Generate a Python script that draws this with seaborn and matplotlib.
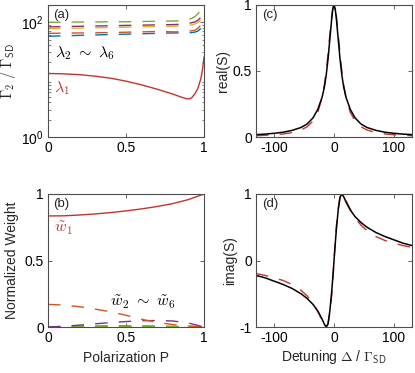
import numpy as np
import pandas as pd
import seaborn as sns
import matplotlib
matplotlib.use("Agg")
import matplotlib.pyplot as plt
from matplotlib.ticker import LogLocator, NullFormatter

# ---------------- data ----------------
# panel (a): decay rates vs polarization
P_a = [0.0, 0.1, 0.2, 0.3, 0.4, 0.5, 0.6, 0.7, 0.8, 0.85, 0.88, 0.9, 0.92, 0.94, 0.96, 0.98, 0.99, 1.0]
lam1 = [12.8, 12.6, 12.2, 11.5, 10.6, 9.4, 8.1, 6.8, 5.6, 5.0, 4.7, 4.6, 4.8, 5.6, 7.0, 10.5, 15.0, 25.0]
lam_green = [100, 100, 101, 101, 102, 102, 103, 104, 105, 106, 108, 110, 117, 124, 140, 165, 180, 190]
lam_purple = [83, 84, 85, 86, 87, 88, 89, 90, 91, 92, 93, 95, 98, 101, 108, 122, 132, 140]
lam_yellow = [77, 78, 79, 80, 81, 82, 83, 84, 85, 86, 87, 88, 90, 93, 99, 110, 118, 125]
lam_orange = [64, 64.5, 65, 65.5, 66, 67, 68, 69, 68, 68, 69, 70, 71, 72, 78, 90, 95, 100]
lam_blue = [57, 58, 59, 60, 61, 62, 63, 64, 65, 65, 65, 66, 66, 67, 70, 78, 83, 88]

# panel (b): normalized weights vs polarization
P_b = [0.0, 0.1, 0.2, 0.3, 0.4, 0.5, 0.6, 0.7, 0.8, 0.9, 1.0]
w1 = [0.835, 0.836, 0.842, 0.850, 0.860, 0.873, 0.888, 0.906, 0.928, 0.958, 1.0]
w_orange = [0.17, 0.165, 0.153, 0.135, 0.115, 0.088, 0.058, 0.035, 0.018, 0.008, 0.0]
w_purple = [0.0, 0.006, 0.014, 0.024, 0.033, 0.041, 0.047, 0.049, 0.045, 0.03, 0.0]
w_yellow = [0.0, 0.002, 0.003, 0.004, 0.004, 0.004, 0.004, 0.003, 0.002, 0.001, 0.0]
w_green = [0.0, 0.002, 0.003, 0.004, 0.005, 0.005, 0.005, 0.004, 0.003, 0.002, 0.0]
w_blue = [0.0, 0.003, 0.005, 0.006, 0.007, 0.007, 0.007, 0.006, 0.004, 0.002, 0.0]

# panels (c),(d): spectrum vs detuning
D = [-130, -115, -100, -85, -70, -55, -45, -35, -27, -20, -16, -13, -10, -7, -4, -2,
     0, 2, 4, 7, 10, 13, 16, 20, 27, 35, 45, 55, 70, 85, 100, 115, 130]
re_black = [0.018, 0.022, 0.028, 0.036, 0.050, 0.072, 0.098, 0.145, 0.21, 0.30, 0.38, 0.47, 0.59, 0.74, 0.89, 0.97,
            1.0, 0.97, 0.89, 0.74, 0.59, 0.47, 0.38, 0.30, 0.21, 0.145, 0.098, 0.072, 0.050, 0.036, 0.028, 0.022, 0.018]
re_red = [0.010, 0.013, 0.017, 0.023, 0.033, 0.053, 0.077, 0.121, 0.188, 0.297, 0.398, 0.50, 0.628, 0.775, 0.913, 0.977,
          1.0, 0.977, 0.913, 0.775, 0.628, 0.50, 0.398, 0.297, 0.188, 0.121, 0.077, 0.053, 0.033, 0.023, 0.017, 0.013, 0.010]
im_black = [-0.225, -0.26, -0.31, -0.36, -0.42, -0.50, -0.57, -0.66, -0.76, -0.88, -0.96, -1.0, -0.95, -0.76, -0.48, -0.25,
            0.0, 0.25, 0.48, 0.76, 0.95, 1.0, 0.96, 0.88, 0.76, 0.66, 0.57, 0.50, 0.42, 0.36, 0.31, 0.26, 0.225]
im_red = [-0.198, -0.224, -0.26, -0.30, -0.36, -0.45, -0.53, -0.64, -0.77, -0.90, -0.97, -1.0, -0.96, -0.79, -0.53, -0.29,
          0.0, 0.29, 0.53, 0.79, 0.96, 1.0, 0.97, 0.90, 0.77, 0.64, 0.53, 0.45, 0.36, 0.30, 0.26, 0.224, 0.198]

# ---------------- style ----------------
sns.set_theme(style="ticks")
plt.rcParams["font.family"] = ["Liberation Sans", "DejaVu Sans"]
plt.rcParams["mathtext.fontset"] = "cm"
plt.rcParams["axes.edgecolor"] = "#4d4d4d"
plt.rcParams["axes.linewidth"] = 0.8
plt.rcParams["xtick.color"] = "#4d4d4d"
plt.rcParams["ytick.color"] = "#4d4d4d"
plt.rcParams["xtick.labelcolor"] = "black"
plt.rcParams["ytick.labelcolor"] = "black"

RED = "#C8322D"
C_GREEN = "#77AC30"
C_PURPLE = "#7E2F8E"
C_YELLOW = "#EDB120"
C_ORANGE = "#D95319"
C_BLUE = "#0072BD"
DASH = (9, 8)
FS = 10

fig = plt.figure(figsize=(4.15, 3.73), dpi=100)
W = 0.376
axa = fig.add_axes([0.1157, 0.6327, W, 0.354])
axc = fig.add_axes([0.6169, 0.6327, W, 0.354])
axb = fig.add_axes([0.1157, 0.1233, W, 0.3566])
axd = fig.add_axes([0.6169, 0.1233, W, 0.3566])


def style_ax(ax):
    ax.tick_params(direction="in", top=True, right=True, length=3, width=0.6,
                   labelsize=FS, pad=3)
    ax.tick_params(which="minor", direction="in", left=True, right=True, length=1.8, width=0.5)
    for s in ax.spines.values():
        s.set_visible(True)


# ---------------- panel (a) ----------------
for vals, col in [(lam_blue, C_BLUE), (lam_orange, C_ORANGE), (lam_yellow, C_YELLOW),
                  (lam_purple, C_PURPLE), (lam_green, C_GREEN)]:
    sns.lineplot(x=P_a, y=vals, ax=axa, color=col, lw=1.0, linestyle=(0, DASH))
sns.lineplot(x=P_a, y=lam1, ax=axa, color=RED, lw=1.0)
axa.set_yscale("log")
axa.set_xlim(0, 1)
axa.set_ylim(1, 200)
axa.set_xticks([0, 0.5, 1])
axa.set_xticklabels(["0", "0.5", "1"])
axa.set_yticks([1, 100])
axa.set_yticklabels([r"$\mathdefault{10^{0}}$", r"$\mathdefault{10^{2}}$"])
axa.yaxis.set_minor_locator(LogLocator(base=10, subs=np.arange(2, 10)))
axa.yaxis.set_minor_formatter(NullFormatter())
axa.set_ylabel(r"$\Gamma_2\ /\ \Gamma_{\mathsf{SD}}$", fontsize=FS + 0.5, labelpad=2)
axa.text(0.03, 0.97, "(a)", transform=axa.transAxes, fontsize=FS - 0.5, va="top", ha="left")
axa.text(0.045, 29, r"$\lambda_2\ \sim\ \lambda_6$", fontsize=FS + 1.5, color="black", va="center")
axa.text(0.04, 7.2, r"$\lambda_1$", fontsize=FS + 1.5, color=RED, va="center")
style_ax(axa)

# ---------------- panel (b) ----------------
for vals, col in [(w_yellow, C_YELLOW), (w_blue, C_BLUE), (w_green, C_GREEN),
                  (w_purple, C_PURPLE), (w_orange, C_ORANGE)]:
    sns.lineplot(x=P_b, y=vals, ax=axb, color=col, lw=1.0, linestyle=(0, DASH))
sns.lineplot(x=P_b, y=w1, ax=axb, color=RED, lw=1.0)
axb.set_xlim(0, 1)
axb.set_ylim(0, 1)
axb.set_xticks([0, 0.5, 1])
axb.set_xticklabels(["0", "0.5", "1"])
axb.set_yticks([0, 0.5, 1])
axb.set_yticklabels(["0", "0.5", "1"])
axb.set_xlabel("Polarization P", fontsize=FS, labelpad=4)
axb.set_ylabel("Normalized Weight", fontsize=FS, labelpad=4)
axb.text(0.03, 0.97, "(b)", transform=axb.transAxes, fontsize=FS - 0.5, va="top", ha="left")
axb.text(0.04, 0.74, r"$\tilde{w}_1$", fontsize=FS + 1.5, color=RED, va="center")
axb.text(0.40, 0.185, r"$\tilde{w}_2\ \sim\ \tilde{w}_6$", fontsize=FS + 1.5, color="black", va="center")
style_ax(axb)

# ---------------- panel (c) ----------------
sns.lineplot(x=D, y=re_red, ax=axc, color=RED, lw=1.0, linestyle=(0, DASH))
sns.lineplot(x=D, y=re_black, ax=axc, color="black", lw=1.1)
axc.set_xlim(-130, 130)
axc.set_ylim(0, 1)
axc.set_xticks([-100, 0, 100])
axc.set_xticklabels(["-100", "0", "100"])
axc.set_yticks([0, 0.5, 1])
axc.set_yticklabels(["0", "0.5", "1"])
axc.set_ylabel("real(S)", fontsize=FS, labelpad=2)
axc.text(0.04, 0.97, "(c)", transform=axc.transAxes, fontsize=FS - 0.5, va="top", ha="left")
style_ax(axc)

# ---------------- panel (d) ----------------
sns.lineplot(x=D, y=im_red, ax=axd, color=RED, lw=1.0, linestyle=(0, DASH))
sns.lineplot(x=D, y=im_black, ax=axd, color="black", lw=1.1)
axd.set_xlim(-130, 130)
axd.set_ylim(-1, 1)
axd.set_xticks([-100, 0, 100])
axd.set_xticklabels(["-100", "0", "100"])
axd.set_yticks([-1, 0, 1])
axd.set_yticklabels(["-1", "0", "1"])
axd.set_ylabel("imag(S)", fontsize=FS, labelpad=2)
axd.set_xlabel(r"Detuning $\Delta$ / $\Gamma_{\mathsf{SD}}$", fontsize=FS, labelpad=2)
axd.text(0.04, 0.97, "(d)", transform=axd.transAxes, fontsize=FS - 0.5, va="top", ha="left")
style_ax(axd)

fig.savefig("out.png", dpi=100)
